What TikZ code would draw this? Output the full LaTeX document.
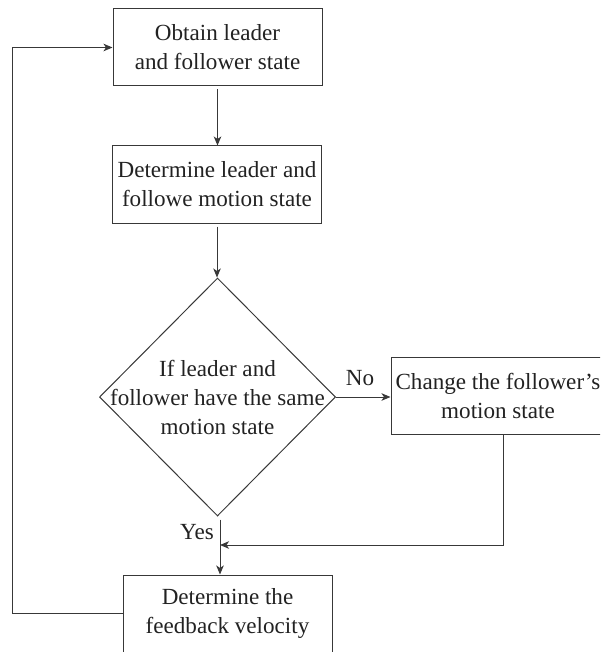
\documentclass[tikz,border=0pt]{standalone}
\usepackage{fontspec}
\setmainfont{Liberation Serif}
\usetikzlibrary{shapes.geometric,arrows.meta}
\definecolor{ink}{HTML}{222222}
\definecolor{wire}{HTML}{383838}
\begin{document}
\begin{tikzpicture}[x=1pt,y=-1pt,
  every node/.style={text=ink,font=\fontsize{23.1}{29}\selectfont},
  procbox/.style={draw=wire,line width=1pt,rectangle,minimum width=209pt,minimum height=77pt,inner sep=0pt,align=center},
  decbox/.style={draw=wire,line width=1pt,diamond,minimum width=236pt,minimum height=238pt,inner sep=0pt},
  flow/.style={draw=wire,line width=1pt,-{Stealth[length=9pt,width=7.5pt,inset=2.5pt]}}]
\useasboundingbox (0,0) rectangle (600,652);
\clip (0,0) rectangle (600,652);

% process steps
\node[procbox] (obtain) at (217.5,47.5) {Obtain leader\\and follower state};
\node[procbox] (motion) at (217,184.5) {Determine leader and\\followe motion state};
\node[decbox] (same) at (217.5,397) {};
\node[align=center,inner sep=0pt] (sametext) at (same.center) {If leader and\\follower have the same\\motion state};
\node[procbox,minimum width=214pt] (change) at (498,395.5) {Change the follower’s\\motion state};
\node[procbox] (feedback) at (227.5,613.5) {Determine the\\feedback velocity};

% branch labels
\node (no) at (360,378) {No};
\node (yes) at (197,532) {Yes};

% junction where the correction rejoins the main line
\coordinate (merge) at (220,545);

% connectors
\draw[flow,shorten <=3pt] (obtain.south) -- (obtain.south |- motion.north);
\draw[flow,shorten <=3pt] (motion.south) -- (motion.south |- same.north);
\draw[flow] (same.east) -- (same.east -| change.west);
\draw[flow,shorten <=3pt] (merge |- same.south) -- (merge |- feedback.north);
\draw[flow] ([xshift=5pt]change.south) |- (merge);
\draw[flow] (feedback.west) -- ++(-110,0) |- (obtain.west);
\end{tikzpicture}
\end{document}
